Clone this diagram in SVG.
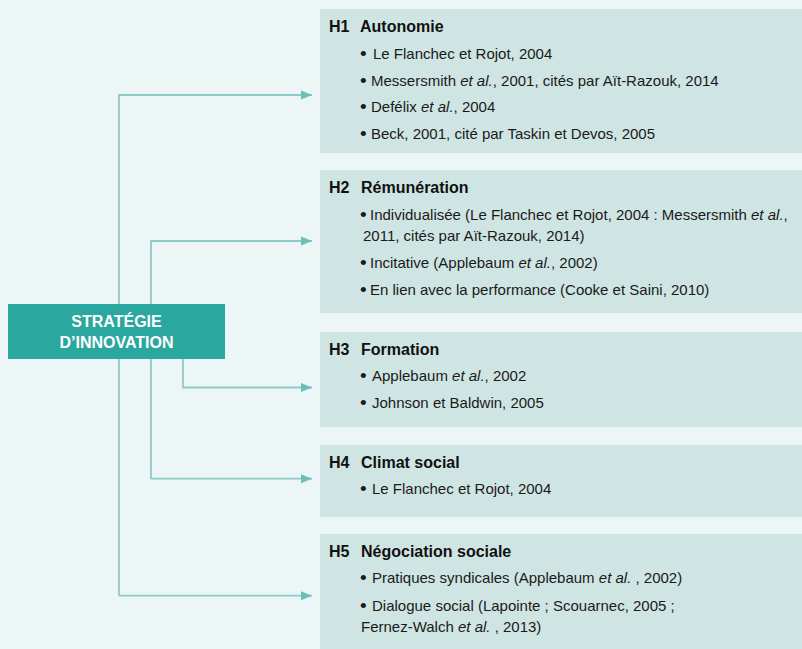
<svg xmlns="http://www.w3.org/2000/svg" width="802" height="649" viewBox="0 0 802 649">
<defs>
<style>
.bg{fill:#EDF6F7}
.panel{fill:#CFE5E3}
.hd{font-family:"Liberation Sans",Arial,sans-serif;font-weight:bold;font-size:16px;fill:#111}
.tx{font-family:"Liberation Sans",Arial,sans-serif;font-size:15px;fill:#1a1a1a}
.bu{font-family:"Liberation Sans",Arial,sans-serif;font-size:19px;fill:#1a1a1a}
.it{font-style:italic}
.ctr{font-family:"Liberation Sans",Arial,sans-serif;font-weight:bold;font-size:16px;fill:#fff}
.conn{fill:none;stroke:#8DCBC7;stroke-width:1.8}
</style>
<marker id="arr" markerWidth="12" markerHeight="10" refX="11" refY="5" orient="auto" markerUnits="userSpaceOnUse">
<path d="M0,0.5 L11,5 L0,9.5 Z" fill="#6DBDB8"/>
</marker>
</defs>
<rect class="bg" x="0" y="0" width="802" height="649"/>

<g id="connectors">
<path class="conn" d="M119,596 L119,95 L312,95" marker-end="url(#arr)"/>
<path class="conn" d="M119,595.7 L312,595.7" marker-end="url(#arr)"/>
<path class="conn" d="M151,479 L151,241 L312,241" marker-end="url(#arr)"/>
<path class="conn" d="M151,478.7 L312,478.7" marker-end="url(#arr)"/>
<path class="conn" d="M183,359 L183,387.5 L312,387.5" marker-end="url(#arr)"/>
</g>

<g id="center">
<rect x="8" y="304" width="217" height="55" fill="#2AA79F"/>
<text class="ctr" x="116.5" y="327" text-anchor="middle">STRATÉGIE</text>
<text class="ctr" x="116.5" y="348" text-anchor="middle">D’INNOVATION</text>
</g>

<g id="h1">
<rect class="panel" x="320" y="9" width="482" height="144"/>
<text class="hd" x="329" y="31.5">H1</text>
<text class="hd" x="360" y="31.5">Autonomie</text>
<text class="bu" x="360" y="59.5">•</text><text class="tx" x="373" y="58.5">Le Flanchec et Rojot, 2004</text>
<text class="bu" x="360" y="86.5">•</text><text class="tx" x="371" y="85.5">Messersmith <tspan class="it">et al.</tspan>, 2001, cités par Aït-Razouk, 2014</text>
<text class="bu" x="360" y="113">•</text><text class="tx" x="371" y="112">Defélix <tspan class="it">et al.</tspan>, 2004</text>
<text class="bu" x="360" y="139.5">•</text><text class="tx" x="371" y="138.5">Beck, 2001, cité par Taskin et Devos, 2005</text>
</g>

<g id="h2">
<rect class="panel" x="320" y="170" width="482" height="143"/>
<text class="hd" x="329" y="192.5">H2</text>
<text class="hd" x="361" y="192.5">Rémunération</text>
<text class="bu" x="360" y="221">•</text><text class="tx" x="370" y="220">Individualisée (Le Flanchec et Rojot, 2004 : Messersmith <tspan class="it">et al.</tspan>,</text>
<text class="tx" x="363" y="240.5">2011, cités par Aït-Razouk, 2014)</text>
<text class="bu" x="360" y="269">•</text><text class="tx" x="370" y="268">Incitative (Applebaum <tspan class="it">et al.</tspan>, 2002)</text>
<text class="bu" x="360" y="296">•</text><text class="tx" x="370" y="295">En lien avec la performance (Cooke et Saini, 2010)</text>
</g>

<g id="h3">
<rect class="panel" x="320" y="332" width="482" height="95"/>
<text class="hd" x="329" y="354.5">H3</text>
<text class="hd" x="361" y="354.5">Formation</text>
<text class="bu" x="360" y="382">•</text><text class="tx" x="372" y="381">Applebaum <tspan class="it">et al.</tspan>, 2002</text>
<text class="bu" x="360" y="408.5">•</text><text class="tx" x="372" y="407.5">Johnson et Baldwin, 2005</text>
</g>

<g id="h4">
<rect class="panel" x="320" y="445" width="482" height="72"/>
<text class="hd" x="329" y="467.5">H4</text>
<text class="hd" x="361" y="467.5">Climat social</text>
<text class="bu" x="360" y="495">•</text><text class="tx" x="372" y="494">Le Flanchec et Rojot, 2004</text>
</g>

<g id="h5">
<rect class="panel" x="320" y="534" width="482" height="115"/>
<text class="hd" x="329" y="556.5">H5</text>
<text class="hd" x="361" y="556.5">Négociation sociale</text>
<text class="bu" x="360" y="584">•</text><text class="tx" x="372" y="583">Pratiques syndicales (Applebaum <tspan class="it">et al.</tspan> , 2002)</text>
<text class="bu" x="360" y="611.5">•</text><text class="tx" x="372" y="610.5">Dialogue social (Lapointe ; Scouarnec, 2005 ;</text>
<text class="tx" x="361" y="631.5">Fernez-Walch <tspan class="it">et al.</tspan> , 2013)</text>
</g>
</svg>
